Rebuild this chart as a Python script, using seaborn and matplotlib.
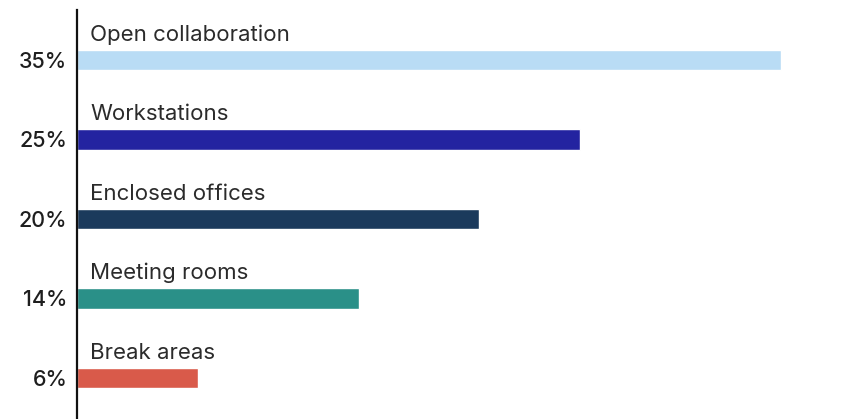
import matplotlib
matplotlib.use("Agg")
import matplotlib.pyplot as plt
import seaborn as sns
import pandas as pd

categories = ["Open collaboration", "Workstations", "Enclosed offices", "Meeting rooms", "Break areas"]
values = [35, 25, 20, 14, 6]
tick_labels = ["35%", "25%", "20%", "14%", "6%"]
colors = ["#b9dcf5", "#2323a0", "#1b3a5c", "#2a9088", "#d95a4a"]

sns.set_style("white")
plt.rcParams["font.family"] = ["Inter", "DejaVu Sans"]

df = pd.DataFrame({"category": categories, "value": values})

fig = plt.figure(figsize=(8.65, 4.19), dpi=100)
ax = fig.add_axes([77 / 865, 0, 1 - 77 / 865, (419 - 10) / 419])

sns.barplot(data=df, y="category", x="value", hue="category", palette=colors,
            order=categories, hue_order=categories, orient="h", width=0.26,
            legend=False, ax=ax, saturation=1)

ax.set_xlim(0, 39.18)
ax.set_ylim(4.516, -0.629)

for i, cat in enumerate(categories):
    ax.text(0.65, i - 0.245, cat, ha="left", va="baseline", fontsize=16, color="#2b2b2b")

ax.set_yticks(range(len(categories)))
ax.set_yticklabels(tick_labels, fontsize=15.5, color="#1e1e1e", fontweight="medium")
ax.tick_params(axis="y", length=0, pad=7)
ax.set_xticks([])
ax.set_xlabel("")
ax.set_ylabel("")
for s in ["top", "right", "bottom"]:
    ax.spines[s].set_visible(False)
ax.spines["left"].set_color("#111111")
ax.spines["left"].set_linewidth(1.6)

fig.savefig("out.png", dpi=100)
